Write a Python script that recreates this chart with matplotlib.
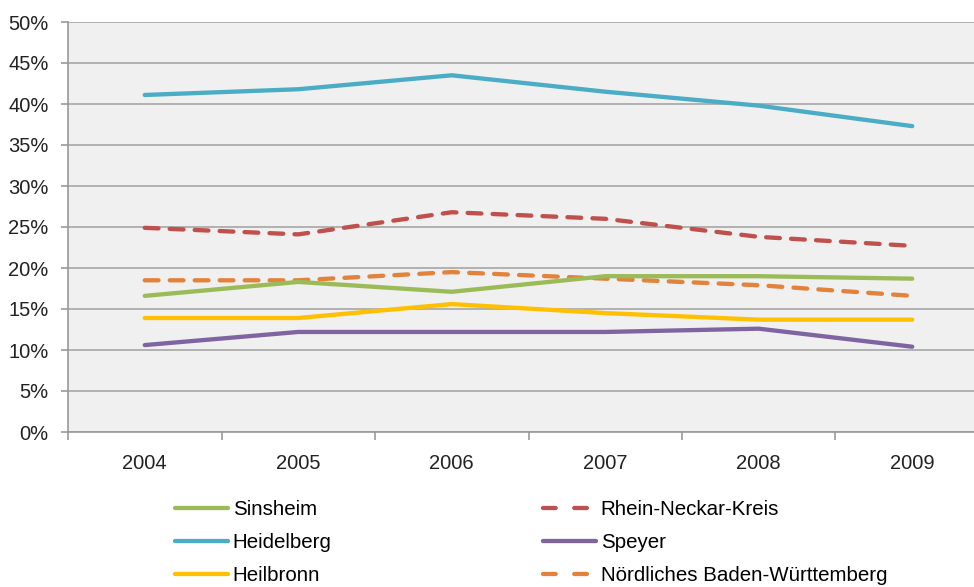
import matplotlib
matplotlib.use("Agg")
import matplotlib.pyplot as plt
from matplotlib.lines import Line2D
from matplotlib.ticker import FuncFormatter
from matplotlib import font_manager

years = ["2004", "2005", "2006", "2007", "2008", "2009"]
sinsheim = [16.6, 18.3, 17.1, 19.0, 19.0, 18.7]
heidelberg = [41.1, 41.8, 43.5, 41.5, 39.8, 37.3]
heilbronn = [13.9, 13.9, 15.6, 14.5, 13.7, 13.7]
rhein_neckar = [24.9, 24.1, 26.8, 26.0, 23.8, 22.7]
speyer = [10.6, 12.2, 12.2, 12.2, 12.6, 10.4]
noerdliches_bw = [18.5, 18.5, 19.5, 18.7, 17.9, 16.6]
yticks = [0, 5, 10, 15, 20, 25, 30, 35, 40, 45, 50]

names = {f.name for f in font_manager.fontManager.ttflist}
base = "Liberation Sans" if "Liberation Sans" in names else "DejaVu Sans"
narrow = "Liberation Sans Narrow" if "Liberation Sans Narrow" in names else base
plt.rcParams["font.family"] = [base, "DejaVu Sans"]

fig = plt.figure(figsize=(9.74, 5.87), dpi=100)
# category axis extends slightly past the right edge of the image
ax = fig.add_axes([68/974, 1-432/587, (989-68)/974, (432-22)/587])
ax.set_facecolor("#F0F0F0")

x = list(range(len(years)))
lw = 3.1
series = [
    ("Sinsheim", sinsheim, "#9BBB59", "-"),
    ("Heidelberg", heidelberg, "#4BACC6", "-"),
    ("Heilbronn", heilbronn, "#FFC000", "-"),
    ("Rhein-Neckar-Kreis", rhein_neckar, "#C0504D", "--"),
    ("Speyer", speyer, "#8064A2", "-"),
    ("Nördliches Baden-Württemberg", noerdliches_bw, "#E3823A", "--"),
]
draw_order = [5, 3, 0, 2, 4, 1]
for i in draw_order:
    name, vals, col, ls = series[i]
    if ls == "--":
        ax.plot(x, vals, color=col, lw=lw, linestyle=(0, (3.2, 2.6)),
                dash_capstyle="round", solid_joinstyle="round", zorder=3, clip_on=False)
    else:
        ax.plot(x, vals, color=col, lw=lw, solid_capstyle="round",
                solid_joinstyle="round", zorder=3, clip_on=False)

ax.set_xlim(-0.5, len(years) - 0.5)
ax.set_ylim(0, 50)
ax.set_yticks(yticks)
ax.yaxis.set_major_formatter(FuncFormatter(lambda v, p: f"{int(v)}%"))
ax.grid(axis="y", color="#A6A6A6", lw=1.2, zorder=1)
ax.set_axisbelow(True)

ax.set_xticks(x)
ax.set_xticklabels(years)
ax.set_xticks([i - 0.5 for i in range(len(years) + 1)], minor=True)
ax.tick_params(axis="x", which="major", length=0, pad=16, labelsize=14.5, labelcolor="#222222")
ax.tick_params(axis="x", which="minor", length=6, width=1.2, color="#999999")
ax.tick_params(axis="y", length=5, width=1.2, color="#999999", pad=9, labelsize=14.5, labelcolor="#222222")

for s in ["top", "right"]:
    ax.spines[s].set_visible(False)
for s in ["left", "bottom"]:
    ax.spines[s].set_color("#999999")
    ax.spines[s].set_linewidth(1.2)

def mk(i):
    name, vals, col, ls = series[i]
    if ls == "--":
        return Line2D([], [], color=col, lw=lw, linestyle=(0, (2.95, 4.3)), dash_capstyle="round")
    return Line2D([], [], color=col, lw=lw, solid_capstyle="round")

legkw = dict(frameon=False, handlelength=2.6, handletextpad=0.2, labelspacing=0.68,
             prop={"family": [narrow, "DejaVu Sans"], "size": 14.8}, borderaxespad=0, borderpad=0)
leg1 = fig.legend([mk(i) for i in [0, 1, 2]], [series[i][0] for i in [0, 1, 2]],
                  loc="upper left", bbox_to_anchor=(175/974, 1-500/587), **legkw)
leg2 = fig.legend([mk(i) for i in [3, 4, 5]], [series[i][0] for i in [3, 4, 5]],
                  loc="upper left", bbox_to_anchor=(543/974, 1-500/587), **legkw)

fig.savefig("out.png", dpi=100)
